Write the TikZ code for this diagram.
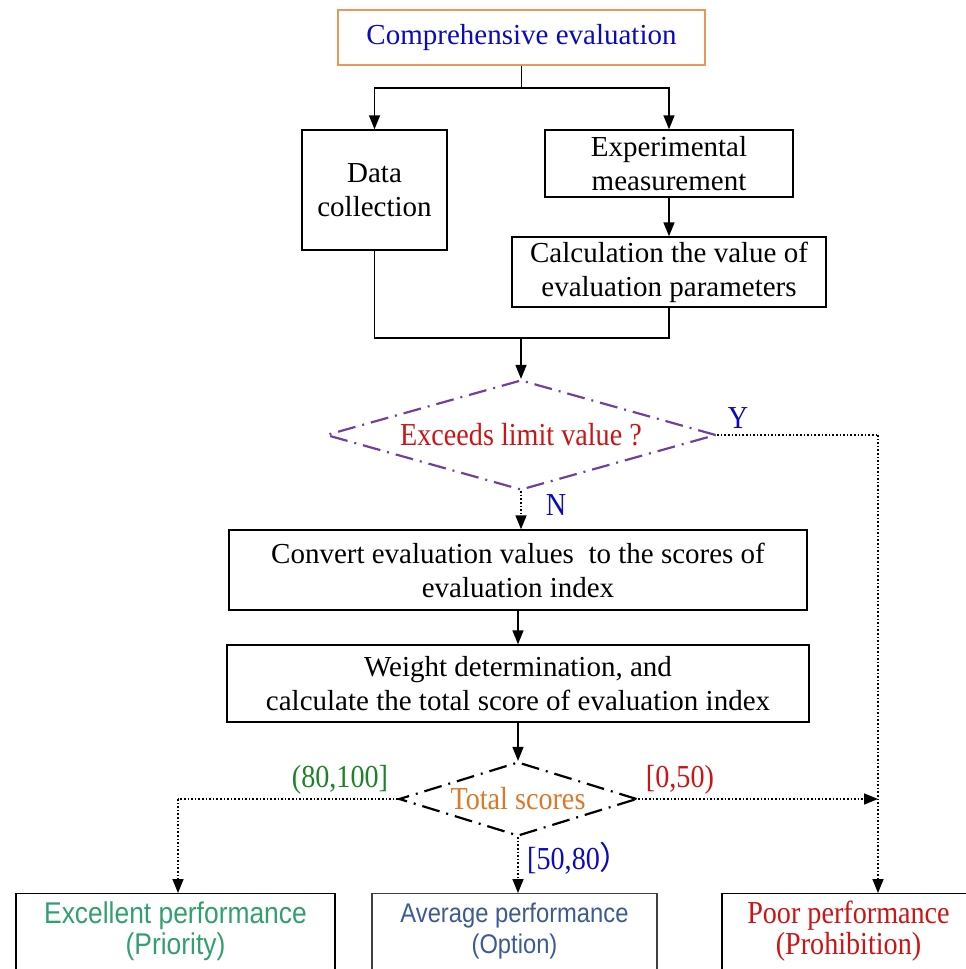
\documentclass[tikz,border=0pt]{standalone}
\usepackage{fontspec}
\setmainfont{Liberation Serif}
\newfontfamily\narrowsans[FakeStretch=0.88]{Liberation Sans}
\newfontfamily\narrowserif[FakeStretch=0.88]{Liberation Serif}
\newfontfamily\cjkfont{Noto Sans CJK SC}
\usetikzlibrary{arrows.meta,shapes.geometric}
\definecolor{tblue}{RGB}{10,10,190}
\definecolor{tred}{RGB}{205,20,20}
\definecolor{torange}{RGB}{220,120,40}
\definecolor{tgreen}{RGB}{30,130,40}
\definecolor{egreen}{RGB}{50,160,110}
\definecolor{agray}{RGB}{60,90,150}
\definecolor{bordor}{RGB}{235,150,90}
\definecolor{dpurple}{RGB}{112,64,160}
\tikzset{
  x=1pt,y=-1pt,
  box/.style={draw,line width=1.4pt,align=center,inner sep=0pt,font=\fontsize{29}{34}\selectfont},
  arr/.style={line width=1.4pt,-{Triangle[length=14pt,width=11pt]}},
  plain/.style={line width=1.4pt},
  dotl/.style={line width=1.6pt,dotted},
  dotarr/.style={line width=1.6pt,dotted,-{Triangle[length=14pt,width=11pt]}},
  dia/.style={diamond,line width=2.2pt,inner sep=0pt,dash pattern=on 18pt off 7pt on 2pt off 7pt},
  lab/.style={font=\fontsize{32}{34}\selectfont\narrowserif,inner sep=0pt},
}
\begin{document}
\begin{tikzpicture}
\useasboundingbox (0,0) rectangle (966,969);
% boxes
\node[box,draw=bordor,line width=1.6pt,minimum width=367,minimum height=55,text=tblue] (top) at (521.5,37.5) {Comprehensive evaluation};
\node[box,minimum width=145,minimum height=120] (data) at (374.5,190) {Data\\collection};
\node[box,minimum width=248,minimum height=67] (exp) at (669,163.5) {Experimental\\measurement};
\node[box,minimum width=314,minimum height=70] (calc) at (669,272) {Calculation the value of\\evaluation parameters};
\node[box,minimum width=578,minimum height=80] (conv) at (518,570) {Convert evaluation values\ \ to the scores of\\evaluation index};
\node[box,minimum width=582,minimum height=77] (wgt) at (518,683.5) {Weight determination, and\\calculate the total score of evaluation index};
% diamonds
\node[dia,draw=dpurple,minimum width=390,minimum height=110] (d1) at (521,435) {};
\node[lab,text=tred] at (d1.center) {Exceeds limit value ?};
\node[dia,draw=black,minimum width=238,minimum height=74] (d2) at (518,799) {};
\node[lab,text=torange] at (d2.center) {Total scores};
% bottom boxes
\node[box,minimum width=319,minimum height=120,font=\fontsize{30}{31}\selectfont\narrowsans,text=egreen,anchor=north] (exc) at (175.5,893) {Excellent performance\\(Priority)\\[20pt]};
\node[box,draw=black!75,line width=1.2pt,minimum width=285,minimum height=120,font=\fontsize{27}{31}\selectfont\narrowsans,text=agray,anchor=north] (avg) at (514.5,893) {Average performance\\(Option)\\[20pt]};
\node[box,minimum width=253,minimum height=120,font=\fontsize{32}{31}\selectfont\narrowserif,text=tred,anchor=north] (poor) at (848.5,893) {Poor performance\\(Prohibition)\\[20pt]};
% connectors top part
\coordinate (j1) at (521.5,88);
\draw[plain] (top.south) -- (j1);
\draw[arr] (j1) -| (data.north);
\draw[arr] (j1) -| (exp.north);
\draw[arr] (exp.south) -- (calc.north);
\coordinate (j2) at (521,338);
\draw[plain] (data.south) |- (j2);
\draw[plain] (calc.south) |- (j2);
\draw[arr] (j2) -- (d1.north);
% Y branch
\coordinate (yt) at (878,435);
\draw[dotl] (d1.east) -- (yt);
\draw[dotarr] (yt) -- (yt |- poor.north);
\node[lab,text=tblue] (ylab) at (738,418) {Y};
% N branch
\draw[dotarr] (d1.south) -- (d1.south |- conv.north);
\node[lab,text=tblue] (nlab) at (556,505) {N};
\draw[arr] (conv.south) -- (wgt.north);
\draw[arr] (wgt.south) -- (d2.north);
% total scores branches
\coordinate (lt) at (178,799);
\draw[dotl] (d2.west) -- (lt);
\draw[dotarr] (lt) -- (lt |- exc.north);
\coordinate (rt) at (878,799);
\draw[dotarr] (d2.east) -- (rt);
\draw[dotarr] (d2.south) -- (d2.south |- avg.north);
\node[lab,text=tgreen] (l1) at (340,780) {(80,100]};
\node[lab,text=tred] (l2) at (680,780) {[0,50)};
\node[lab,text=tblue,anchor=west] (l3) at (527,858) {[50,80{\cjkfont ）}};
\end{tikzpicture}
\end{document}
